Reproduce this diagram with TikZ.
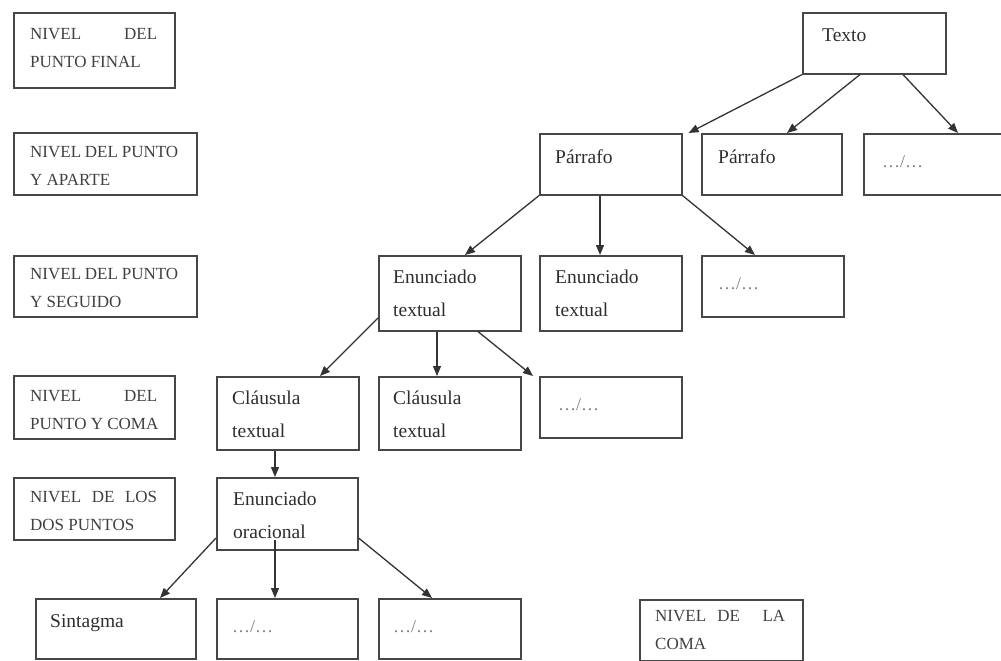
\documentclass[tikz,border=0pt]{standalone}
\usepackage{fontspec}
\setmainfont{Liberation Serif}
\usetikzlibrary{arrows.meta,calc}
\begin{document}
\begin{tikzpicture}[x=1pt,y=-1pt,
  box/.style={draw=black!72,line width=1.6pt,anchor=north west,inner sep=0pt,fill=none},
  tt/.style={anchor=base west,inner sep=0pt,align=left,font=\fontsize{19.5}{33}\selectfont,text=black!82},
  dt/.style={anchor=base west,inner sep=0pt,font=\fontsize{18}{22}\selectfont,text=black!50},
  lt/.style={anchor=base west,inner sep=0pt,align=left,font=\fontsize{17}{28}\selectfont,text=black!75},
  arr/.style={draw=black!80,line width=1.3pt,-{Triangle[length=10pt,width=8pt]}}]
\useasboundingbox (0,0) rectangle (1001,661);

% level labels
\node[box,minimum width=161pt,minimum height=75pt] (l1) at (13,12) {};
\node[box,minimum width=183pt,minimum height=62pt] (l2) at (13,132) {};
\node[box,minimum width=183pt,minimum height=61pt] (l3) at (13,255) {};
\node[box,minimum width=161pt,minimum height=63pt] (l4) at (13,375) {};
\node[box,minimum width=161pt,minimum height=62pt] (l5) at (13,477) {};
\node[box,minimum width=163pt,minimum height=61pt] (l6) at (639,599) {};

% (anchor = baseline of the last line)
\node[lt] (tl1) at ($(l1.north west)+(17,55)$) {\hbox to 127pt{NIVEL\hfill DEL}\\PUNTO FINAL};
\node[lt] (tl2) at ($(l2.north west)+(17,53)$) {\hbox to 148pt{NIVEL\hfill DEL\hfill PUNTO}\\Y APARTE};
\node[lt] (tl3) at ($(l3.north west)+(17,52)$) {\hbox to 148pt{NIVEL\hfill DEL\hfill PUNTO}\\Y SEGUIDO};
\node[lt] (tl4) at ($(l4.north west)+(17,54)$) {\hbox to 127pt{NIVEL\hfill DEL}\\PUNTO Y COMA};
\node[lt] (tl5) at ($(l5.north west)+(17,53)$) {\hbox to 127pt{NIVEL\hfill DE\hfill LOS}\\DOS PUNTOS};
\node[lt] (tl6) at ($(l6.north west)+(16,50)$) {\hbox to 130pt{NIVEL\hfill DE\hfill\hfill LA}\\COMA};

% tree boxes
\node[box,minimum width=143pt,minimum height=61pt] (texto) at (802,12) {};
\node[box,minimum width=142pt,minimum height=61pt] (par1) at (539,133) {};
\node[box,minimum width=140pt,minimum height=61pt] (par2) at (701,133) {};
\node[box,minimum width=150pt,minimum height=61pt] (d2) at (863,133) {};
\node[box,minimum width=142pt,minimum height=75pt] (en1) at (378,255) {};
\node[box,minimum width=142pt,minimum height=75pt] (en2) at (539,255) {};
\node[box,minimum width=142pt,minimum height=61pt] (d3) at (701,255) {};
\node[box,minimum width=142pt,minimum height=73pt] (cl1) at (216,376) {};
\node[box,minimum width=142pt,minimum height=73pt] (cl2) at (378,376) {};
\node[box,minimum width=142pt,minimum height=61pt] (d4) at (539,376) {};
\node[box,minimum width=141pt,minimum height=72pt] (eo) at (216,477) {};
\node[box,minimum width=160pt,minimum height=60pt] (sin) at (35,598) {};
\node[box,minimum width=141pt,minimum height=60pt] (d5) at (216,598) {};
\node[box,minimum width=142pt,minimum height=60pt] (d6) at (378,598) {};

% tree texts
\node[tt] (ttexto) at ($(texto.north west)+(20,30)$) {Texto};
\node[tt] (tpar1) at ($(par1.north west)+(16,30)$) {Párrafo};
\node[tt] (tpar2) at ($(par2.north west)+(17,30)$) {Párrafo};
\node[dt] (td2) at ($(d2.north west)+(19,34)$) {…/…};
\node[tt] (ten1) at ($(en1.north west)+(15,61)$) {Enunciado\\textual};
\node[tt] (ten2) at ($(en2.north west)+(16,61)$) {Enunciado\\textual};
\node[dt] (td3) at ($(d3.north west)+(17,34)$) {…/…};
\node[tt] (tcl1) at ($(cl1.north west)+(16,61)$) {Cláusula\\textual};
\node[tt] (tcl2) at ($(cl2.north west)+(15,61)$) {Cláusula\\textual};
\node[dt] (td4) at ($(d4.north west)+(19,34)$) {…/…};
\node[tt] (teo) at ($(eo.north west)+(17,61)$) {Enunciado\\oracional};
\node[tt] (tsin) at ($(sin.north west)+(15,29)$) {Sintagma};
\node[dt] (td5) at ($(d5.north west)+(16,34)$) {…/…};
\node[dt] (td6) at ($(d6.north west)+(15,34)$) {…/…};

% connectors
\draw[arr] (texto.south west) -- ($(par1.north east)+(6,0)$);
\draw[arr] ($(texto.south west)+(58,0)$) -- ($(par2.north west)+(86,0)$);
\draw[arr] ($(texto.south west)+(101,0)$) -- ($(d2.north west)+(95,0)$);
\draw[arr] (par1.south west) -- ($(en1.north west)+(87,0)$);
\draw[arr] ($(par1.south west)+(61,0)$) -- ($(en2.north west)+(61,0)$);
\draw[arr] (par1.south east) -- ($(d3.north west)+(54,0)$);
\draw[arr] ($(en1.north west)+(0,63)$) -- ($(cl1.north west)+(104,0)$);
\draw[arr] ($(en1.south west)+(59,0)$) -- ($(cl2.north west)+(59,0)$);
\draw[arr] ($(en1.south west)+(100,0)$) -- ($(d4.north west)+(-6,0)$);
\draw[arr] ($(cl1.south west)+(59,0)$) -- ($(eo.north west)+(59,0)$);
\draw[arr] ($(eo.north west)+(0,61)$) -- ($(sin.north west)+(125,0)$);
\draw[arr] ($(eo.north west)+(59,63)$) -- ($(d5.north west)+(59,0)$);
\draw[arr] ($(eo.north east)+(0,61)$) -- ($(d6.north west)+(54,0)$);
\end{tikzpicture}
\end{document}
